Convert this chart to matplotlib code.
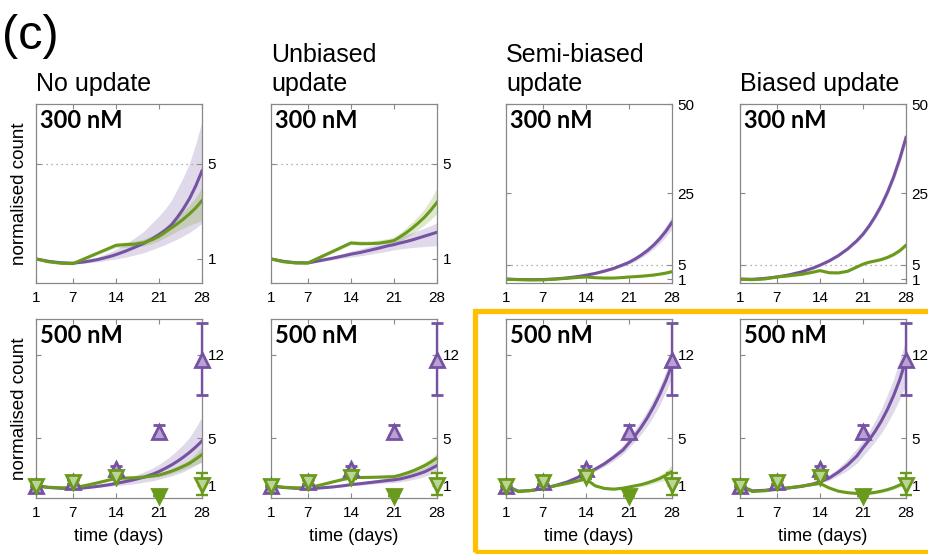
import matplotlib
matplotlib.use("Agg")
import matplotlib.pyplot as plt
import matplotlib.patches as mpatches
import numpy as np

plt.rcParams['font.family'] = ['Liberation Sans', 'DejaVu Sans']

# ---------------- data ----------------
T = [1, 3, 5, 7, 9, 11, 13, 14, 15.5, 17, 18.5, 20, 21, 22, 23, 24, 25, 26, 27, 28]
xticks = [1, 7, 14, 21, 28]
col_titles = [["No update"], ["Unbiased", "update"], ["Semi-biased", "update"], ["Biased update"]]
row_labels = ["300 nM", "500 nM"]

# 300 nM model curves (purple / green), with shaded band limits
top_p = [
    [1.0, 0.9, 0.84, 0.82, 0.88, 0.97, 1.1, 1.18, 1.32, 1.48, 1.65, 1.86, 2.02, 2.2, 2.42, 2.75, 3.12, 3.55, 4.08, 4.7],
    [1.0, 0.9, 0.84, 0.83, 0.93, 1.03, 1.14, 1.2, 1.27, 1.36, 1.45, 1.55, 1.6, 1.67, 1.73, 1.8, 1.88, 1.96, 2.04, 2.12],
    [1.0, 0.9, 0.85, 0.88, 1.05, 1.35, 1.8, 2.1, 2.6, 3.25, 4.0, 5.0, 5.7, 6.65, 7.75, 9.0, 10.5, 12.3, 14.4, 16.9],
    [1.0, 0.95, 1.2, 1.6, 2.2, 3.03, 4.17, 4.9, 6.1, 7.6, 9.45, 11.75, 13.6, 15.9, 18.6, 21.7, 25.4, 29.7, 34.8, 40.7],
]
top_p_hi = [
    [1.0, 0.92, 0.87, 0.86, 0.95, 1.08, 1.28, 1.4, 1.6, 1.88, 2.15, 2.55, 2.8, 3.1, 3.45, 3.95, 4.45, 5.05, 5.85, 6.8],
    [1.0, 0.91, 0.86, 0.86, 0.98, 1.1, 1.25, 1.32, 1.42, 1.53, 1.63, 1.76, 1.85, 1.93, 2.02, 2.1, 2.2, 2.3, 2.4, 2.52],
    [1.0, 0.95, 0.92, 0.95, 1.15, 1.48, 1.98, 2.3, 2.85, 3.55, 4.4, 5.5, 6.25, 7.3, 8.5, 9.9, 11.55, 13.5, 15.9, 18.8],
    [1.0, 1.0, 1.27, 1.7, 2.3, 3.15, 4.35, 5.2, 6.4, 7.95, 9.85, 12.25, 14.2, 16.6, 19.4, 22.6, 26.4, 30.8, 36.1, 42.2],
]
top_p_lo = [
    [1.0, 0.88, 0.81, 0.78, 0.82, 0.88, 0.96, 1.0, 1.07, 1.16, 1.26, 1.4, 1.5, 1.6, 1.72, 1.84, 1.97, 2.12, 2.3, 2.5],
    [1.0, 0.89, 0.82, 0.8, 0.88, 0.96, 1.04, 1.08, 1.13, 1.19, 1.26, 1.33, 1.38, 1.42, 1.45, 1.48, 1.5, 1.52, 1.54, 1.56],
    [1.0, 0.85, 0.78, 0.8, 0.95, 1.22, 1.62, 1.9, 2.35, 2.95, 3.6, 4.5, 5.15, 6.0, 7.0, 8.1, 9.45, 11.0, 12.9, 15.0],
    [1.0, 0.9, 1.13, 1.5, 2.1, 2.91, 4.0, 4.7, 5.8, 7.25, 9.05, 11.25, 13.0, 15.2, 17.8, 20.8, 24.4, 28.6, 33.5, 39.2],
]
top_g = [
    [1.0, 0.88, 0.82, 0.8, 1.02, 1.24, 1.46, 1.57, 1.6, 1.62, 1.68, 1.82, 1.95, 2.12, 2.3, 2.48, 2.68, 2.9, 3.15, 3.45],
    [1.0, 0.88, 0.83, 0.83, 1.07, 1.31, 1.55, 1.67, 1.64, 1.64, 1.66, 1.72, 1.77, 1.93, 2.1, 2.3, 2.52, 2.76, 3.05, 3.38],
    [1.0, 0.85, 0.8, 0.8, 1.0, 1.25, 1.5, 1.6, 1.4, 1.3, 1.3, 1.45, 1.6, 1.7, 1.82, 1.97, 2.15, 2.4, 2.7, 3.1],
    [1.0, 0.85, 1.05, 1.6, 1.95, 2.35, 3.0, 3.4, 2.8, 2.75, 3.2, 4.4, 5.2, 5.75, 6.1, 6.5, 7.1, 7.9, 9.0, 10.5],
]
top_g_hi = [
    [1.0, 0.89, 0.84, 0.83, 1.07, 1.3, 1.54, 1.67, 1.71, 1.75, 1.83, 2.0, 2.15, 2.35, 2.56, 2.78, 3.02, 3.28, 3.6, 4.0],
    [1.0, 0.89, 0.85, 0.86, 1.11, 1.39, 1.65, 1.78, 1.76, 1.76, 1.79, 1.86, 1.92, 2.1, 2.32, 2.56, 2.82, 3.12, 3.52, 3.98],
    [1.0, 0.9, 0.88, 0.9, 1.12, 1.38, 1.65, 1.76, 1.57, 1.47, 1.48, 1.65, 1.82, 1.94, 2.08, 2.26, 2.46, 2.74, 3.08, 3.5],
    [1.0, 1.05, 1.3, 1.9, 2.3, 2.7, 3.35, 3.75, 3.15, 3.1, 3.55, 4.75, 5.55, 6.1, 6.45, 6.9, 7.5, 8.35, 9.5, 11.0],
]
top_g_lo = [
    [1.0, 0.87, 0.8, 0.77, 0.97, 1.18, 1.38, 1.47, 1.49, 1.5, 1.55, 1.66, 1.76, 1.9, 2.04, 2.17, 2.3, 2.42, 2.52, 2.62],
    [1.0, 0.87, 0.81, 0.8, 1.01, 1.25, 1.48, 1.6, 1.6, 1.61, 1.62, 1.64, 1.64, 1.76, 1.9, 2.06, 2.24, 2.44, 2.66, 2.9],
    [1.0, 0.8, 0.72, 0.7, 0.88, 1.12, 1.35, 1.44, 1.23, 1.13, 1.12, 1.25, 1.38, 1.46, 1.56, 1.68, 1.84, 2.06, 2.32, 2.7],
    [1.0, 0.65, 0.8, 1.3, 1.6, 2.0, 2.65, 3.05, 2.45, 2.4, 2.85, 4.05, 4.85, 5.4, 5.75, 6.1, 6.7, 7.45, 8.5, 10.0],
]

# 500 nM model curves
bot_p = [
    [1.0, 0.86, 0.79, 0.77, 0.83, 0.95, 1.1, 1.2, 1.35, 1.52, 1.72, 1.98, 2.2, 2.46, 2.74, 3.06, 3.42, 3.82, 4.27, 4.77],
    [1.0, 0.86, 0.79, 0.77, 0.82, 0.9, 1.02, 1.1, 1.18, 1.27, 1.36, 1.45, 1.5, 1.58, 1.7, 1.84, 2.0, 2.18, 2.43, 2.7],
    [1.0, 0.55, 0.6, 0.77, 1.02, 1.33, 1.78, 2.05, 2.4, 2.85, 3.4, 4.0, 4.6, 5.22, 5.93, 6.73, 7.64, 8.68, 9.85, 11.2],
    [1.0, 0.58, 0.62, 0.75, 0.83, 0.95, 1.17, 1.34, 1.65, 2.15, 2.75, 3.5, 4.2, 4.85, 5.6, 6.45, 7.45, 8.6, 9.95, 11.6],
]
bot_p_hi = [
    [1.0, 0.88, 0.82, 0.8, 0.9, 1.05, 1.27, 1.4, 1.6, 1.85, 2.15, 2.5, 2.8, 3.15, 3.55, 4.0, 4.5, 5.1, 5.9, 6.8],
    [1.0, 0.87, 0.81, 0.8, 0.87, 0.97, 1.12, 1.22, 1.32, 1.43, 1.54, 1.67, 1.75, 1.85, 1.98, 2.14, 2.33, 2.55, 2.85, 3.2],
    [1.0, 0.58, 0.64, 0.82, 1.1, 1.44, 1.92, 2.2, 2.6, 3.1, 3.7, 4.4, 5.05, 5.75, 6.5, 7.35, 8.3, 9.35, 10.6, 12.1],
    [1.0, 0.61, 0.67, 0.82, 0.92, 1.06, 1.3, 1.5, 1.9, 2.5, 3.25, 4.15, 4.8, 5.6, 6.5, 7.5, 8.7, 10.0, 11.6, 13.3],
]
bot_p_lo = [
    [1.0, 0.84, 0.76, 0.74, 0.78, 0.86, 0.96, 1.0, 1.08, 1.18, 1.3, 1.43, 1.55, 1.68, 1.83, 2.0, 2.2, 2.45, 2.73, 3.06],
    [1.0, 0.85, 0.77, 0.74, 0.78, 0.85, 0.95, 1.0, 1.05, 1.12, 1.19, 1.24, 1.27, 1.33, 1.42, 1.52, 1.64, 1.8, 1.98, 2.2],
    [1.0, 0.52, 0.56, 0.72, 0.95, 1.23, 1.65, 1.9, 2.22, 2.62, 3.1, 3.65, 4.2, 4.75, 5.35, 6.05, 6.85, 7.8, 8.9, 10.1],
    [1.0, 0.55, 0.57, 0.68, 0.75, 0.85, 1.04, 1.2, 1.45, 1.85, 2.3, 2.9, 3.5, 4.1, 4.75, 5.45, 6.3, 7.25, 8.3, 9.5],
]
bot_g = [
    [1.0, 0.88, 0.83, 0.83, 1.02, 1.25, 1.5, 1.63, 1.65, 1.68, 1.74, 1.83, 1.9, 2.05, 2.22, 2.42, 2.65, 2.9, 3.25, 3.63],
    [1.0, 0.88, 0.83, 0.83, 1.06, 1.32, 1.57, 1.7, 1.7, 1.71, 1.73, 1.76, 1.77, 1.9, 2.06, 2.24, 2.46, 2.7, 3.0, 3.34],
    [1.0, 0.52, 0.6, 0.77, 1.0, 1.2, 1.45, 1.57, 1.0, 0.78, 0.72, 0.8, 0.9, 1.0, 1.1, 1.25, 1.42, 1.62, 1.88, 2.2],
    [1.0, 0.52, 0.58, 0.7, 0.83, 0.98, 1.12, 1.2, 0.82, 0.55, 0.42, 0.36, 0.35, 0.38, 0.45, 0.55, 0.68, 0.85, 1.07, 1.35],
]
bot_g_hi = [
    [1.0, 0.89, 0.85, 0.86, 1.07, 1.31, 1.58, 1.72, 1.75, 1.79, 1.86, 1.97, 2.05, 2.22, 2.42, 2.65, 2.92, 3.22, 3.7, 4.3],
    [1.0, 0.89, 0.85, 0.86, 1.11, 1.39, 1.66, 1.8, 1.8, 1.81, 1.84, 1.88, 1.9, 2.05, 2.23, 2.44, 2.69, 2.97, 3.33, 3.77],
    [1.0, 0.54, 0.63, 0.8, 1.04, 1.25, 1.51, 1.65, 1.1, 0.88, 0.82, 0.92, 1.02, 1.14, 1.26, 1.43, 1.64, 1.9, 2.25, 2.75],
    [1.0, 0.54, 0.61, 0.74, 0.88, 1.04, 1.19, 1.28, 0.9, 0.63, 0.5, 0.45, 0.45, 0.49, 0.57, 0.68, 0.82, 1.0, 1.24, 1.55],
]
bot_g_lo = [
    [1.0, 0.87, 0.81, 0.8, 0.97, 1.19, 1.42, 1.54, 1.55, 1.57, 1.62, 1.69, 1.75, 1.88, 2.02, 2.19, 2.38, 2.58, 2.8, 2.95],
    [1.0, 0.87, 0.81, 0.8, 1.01, 1.25, 1.48, 1.6, 1.6, 1.61, 1.62, 1.64, 1.64, 1.76, 1.9, 2.06, 2.24, 2.44, 2.66, 2.9],
    [1.0, 0.5, 0.57, 0.74, 0.96, 1.15, 1.39, 1.5, 0.9, 0.68, 0.62, 0.68, 0.78, 0.86, 0.94, 1.06, 1.2, 1.35, 1.5, 1.65],
    [1.0, 0.5, 0.55, 0.66, 0.78, 0.92, 1.05, 1.12, 0.74, 0.47, 0.34, 0.27, 0.25, 0.27, 0.33, 0.42, 0.54, 0.7, 0.9, 1.15],
]

# 500 nM observations
obs_days = [1, 7, 14, 21, 28]
obs_p = [1.0, 1.3, 2.4, 5.55, 11.6]
obs_p_lo = [1.0, 1.15, 2.15, 5.25, 8.6]
obs_p_hi = [1.0, 1.45, 2.7, 6.1, 14.7]
obs_g = [1.0, 1.3, 1.75, 0.15, 1.1]
obs_g_lo = [1.0, 1.15, 1.6, 0.15, 0.25]
obs_g_hi = [1.0, 1.45, 1.9, 0.15, 2.05]
obs_g_filled = [False, False, False, True, False]

top_ylim = [7.5, 7.5, 50, 50]
top_yticks = [[1, 5], [1, 5], [1, 5, 25, 50], [1, 5, 25, 50]]
bot_ylim = 15
bot_yticks = [1, 5, 12]
threshold = 5

# ---------------- style ----------------
PURPLE = '#7652a3'
GREEN = '#6a9a1c'
SPINE = '#888888'
W, H = 929, 554
fig = plt.figure(figsize=(W / 100, H / 100), dpi=100)

col_left = [36, 271, 506, 740]
axw = 166
rows_top = [104.3, 319.3]
axh = 178.4


def make_ax(xl, yt):
    return fig.add_axes([xl / W, 1 - (yt + axh) / H, axw / W, axh / H])


def style(ax, yticks, ylim):
    ax.set_xlim(1, 28)
    ax.set_ylim(0, ylim)
    ax.set_xticks(xticks)
    ax.set_xticklabels([str(v) for v in xticks])
    ax.set_yticks(yticks)
    ax.set_yticklabels([str(v) for v in yticks])
    ax.yaxis.tick_right()
    ax.tick_params(axis='both', direction='in', length=3.5, width=0.8, color=SPINE,
                   labelsize=11, top=True, bottom=True, left=True, right=True,
                   labelleft=False, labelright=True)
    ax.tick_params(axis='x', pad=6)
    ax.tick_params(axis='y', pad=4)
    for s in ax.spines.values():
        s.set_color(SPINE)
        s.set_linewidth(0.9)


bold_font = dict(family=['Lato', 'DejaVu Sans'], weight='bold', fontsize=17)

for c in range(4):
    # top row
    ax = make_ax(col_left[c], rows_top[0])
    ax.fill_between(T, top_p_lo[c], top_p_hi[c], color=PURPLE, alpha=0.22, lw=0)
    ax.fill_between(T, top_g_lo[c], top_g_hi[c], color=GREEN, alpha=0.22, lw=0)
    ax.axhline(threshold, color='#999999', ls=(0, (1, 3)), lw=0.9)
    ax.plot(T, top_p[c], color=PURPLE, lw=2.2, solid_joinstyle='round')
    ax.plot(T, top_g[c], color=GREEN, lw=2.2, solid_joinstyle='round')
    style(ax, top_yticks[c], top_ylim[c])
    ax.text(0.025, 0.975, row_labels[0], transform=ax.transAxes, ha='left', va='top', **bold_font)

    # bottom row
    ax = make_ax(col_left[c], rows_top[1])
    ax.fill_between(T, bot_p_lo[c], bot_p_hi[c], color=PURPLE, alpha=0.22, lw=0)
    ax.fill_between(T, bot_g_lo[c], bot_g_hi[c], color=GREEN, alpha=0.22, lw=0)
    ax.plot(T, bot_p[c], color=PURPLE, lw=2.2, solid_joinstyle='round')
    ax.plot(T, bot_g[c], color=GREEN, lw=2.2, solid_joinstyle='round')
    op = np.array(obs_p)
    ax.errorbar(obs_days, op, yerr=[op - np.array(obs_p_lo), np.array(obs_p_hi) - op],
                fmt='^', ms=9.5, mfc='#b8a2d4', mec=PURPLE, mew=2.0, ecolor=PURPLE,
                elinewidth=1.7, capsize=4, capthick=1.7, clip_on=False, zorder=5)
    og = np.array(obs_g)
    ax.errorbar(obs_days, og, yerr=[og - np.array(obs_g_lo), np.array(obs_g_hi) - og],
                fmt='none', ecolor=GREEN, elinewidth=1.7, capsize=4, capthick=1.7,
                clip_on=False, zorder=6)
    for d, v, f in zip(obs_days, obs_g, obs_g_filled):
        ax.plot([d], [v], marker='v', ms=9.5, mfc=GREEN if f else '#bcd596', mec=GREEN,
                mew=2.0, clip_on=False, zorder=7)
    style(ax, bot_yticks, bot_ylim)
    ax.text(0.025, 0.975, row_labels[1], transform=ax.transAxes, ha='left', va='top', **bold_font)
    ax.text(0.5, -0.17, 'time (days)', transform=ax.transAxes, ha='center', va='top', fontsize=13)

    # column title
    lines = col_titles[c]
    base = 90.5
    for i, line in enumerate(reversed(lines)):
        fig.text(col_left[c] / W, 1 - (base - 29 * i) / H, line, ha='left', va='baseline', fontsize=18)

for r in range(2):
    fig.text(20 / W, 1 - (rows_top[r] + axh / 2) / H, 'normalised count', rotation=90,
             ha='center', va='center', fontsize=13.5)

fig.text(2 / W, 1 - 14 / H, '(c)', ha='left', va='top', fontsize=35)

rect = mpatches.Rectangle((475.5 / W, 1 - 551.5 / H), 470 / W, 241 / H, transform=fig.transFigure,
                          fill=False, ec='#FFC000', lw=3.8, clip_on=False)
fig.patches.append(rect)

fig.savefig('out.png', dpi=100)
